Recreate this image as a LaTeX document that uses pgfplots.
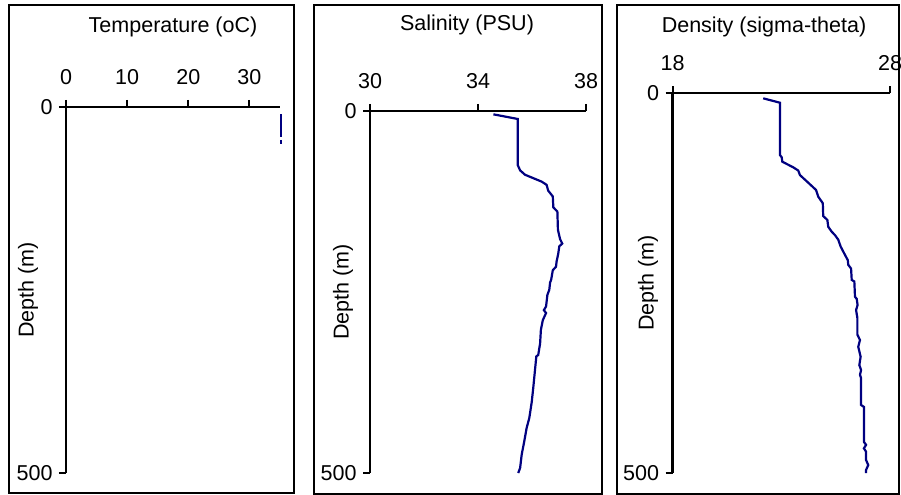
\documentclass[border=0pt]{standalone}
\usepackage{fontspec}
\setmainfont{Liberation Sans}
\usepackage{pgfplots}
\pgfplotsset{compat=1.18}
\definecolor{navy}{RGB}{0,0,128}
\newcommand{\fs}{\fontsize{21.6pt}{25pt}\selectfont}
\pgfplotsset{
  prof/.style={
    anchor=north west, scale only axis, y dir=reverse,
    ymin=0, ymax=500, ytick={0,500},
    axis x line*=top, axis y line*=left,
    tick align=outside, major tick length=7bp,
    axis line style={line width=2.2bp, black},
    every tick/.style={line width=2bp, black},
    tick label style={font=\fs},
    xticklabel style={yshift=12bp},
    yticklabel style={xshift=-3bp},
    /pgf/number format/assume math mode=true,
    clip=false,
  },
  dat/.style={navy, line width=2.2bp, mark=none},
}
\begin{document}
\begin{tikzpicture}
\path[use as bounding box] (0,0) rectangle (901bp,495bp);
\draw[line width=2bp] (9bp,2bp) rectangle (294bp,490bp);
\draw[line width=2bp] (314bp,1bp) rectangle (602bp,490bp);
\draw[line width=2bp] (617bp,1bp) rectangle (899bp,490bp);

\node[font=\fs] at (173bp,468bp) {Temperature (oC)};
\node[font=\fs] at (467bp,470bp) {Salinity (PSU)};
\node[font=\fs] at (764bp,468bp) {Density (sigma-theta)};
\node[font=\fs, rotate=90] at (28bp,205bp) {Depth (m)};
\node[font=\fs, rotate=90] at (343bp,203bp) {Depth (m)};
\node[font=\fs, rotate=90] at (648bp,212bp) {Depth (m)};

\begin{axis}[prof, at={(66bp,388bp)}, width=214bp, height=366bp,
  xmin=0, xmax=35, xtick={0,10,20,30}]
\addplot[dat] coordinates {(35.1,10) (35.1,41)};
\addplot[dat] coordinates {(35.1,45) (35.1,50)};
\end{axis}

\begin{axis}[prof, at={(370bp,384bp)}, width=216bp, height=362bp,
  xmin=30, xmax=38, xtick={30,34,38}]
\addplot[dat] coordinates {
(34.57,4.6) (35.47,11) (35.47,74.6) (35.56,82) (35.74,88) (36.36,97.6)
(36.54,102) (36.60,110) (36.77,118) (36.79,133) (36.94,139) (36.96,164)
(37.04,177) (37.12,183) (37.01,187) (36.97,197.5) (36.91,208) (36.89,215)
(36.77,220) (36.71,233) (36.67,237) (36.64,247) (36.57,254) (36.52,270)
(36.44,275) (36.52,279) (36.40,289) (36.33,302) (36.30,321) (36.23,337)
(36.16,339) (36.11,358) (36.05,381) (35.99,402) (35.90,424) (35.80,438)
(35.70,459) (35.62,474) (35.56,493) (35.49,500)
};
\end{axis}

\begin{axis}[prof, at={(672.5bp,402bp)}, width=217.5bp, height=380bp,
  xmin=18, xmax=28, xtick={18,28}]
\addplot[dat] coordinates {
(22.17,7) (22.94,12.8) (22.94,81.6) (23.02,84.6) (23.05,90.4) (23.55,97.8)
(23.78,102) (23.86,108) (24.24,118) (24.60,127.6) (24.70,136.4) (24.91,145)
(24.93,162) (25.12,167) (25.16,176) (25.32,182.5) (25.47,187) (25.62,193)
(25.73,202) (25.93,213) (26.06,220) (26.08,226) (26.21,231) (26.24,246)
(26.36,248) (26.39,268) (26.47,271) (26.51,279) (26.44,285.5) (26.50,296)
(26.50,318) (26.62,325) (26.54,334) (26.65,347) (26.59,358) (26.67,364.5)
(26.62,371) (26.67,375) (26.67,410.5) (26.80,413) (26.80,459) (26.90,463)
(26.80,467.5) (26.90,472) (26.90,483) (27.00,489.5) (26.90,496) (26.90,500)
};
\end{axis}
\end{tikzpicture}
\end{document}
